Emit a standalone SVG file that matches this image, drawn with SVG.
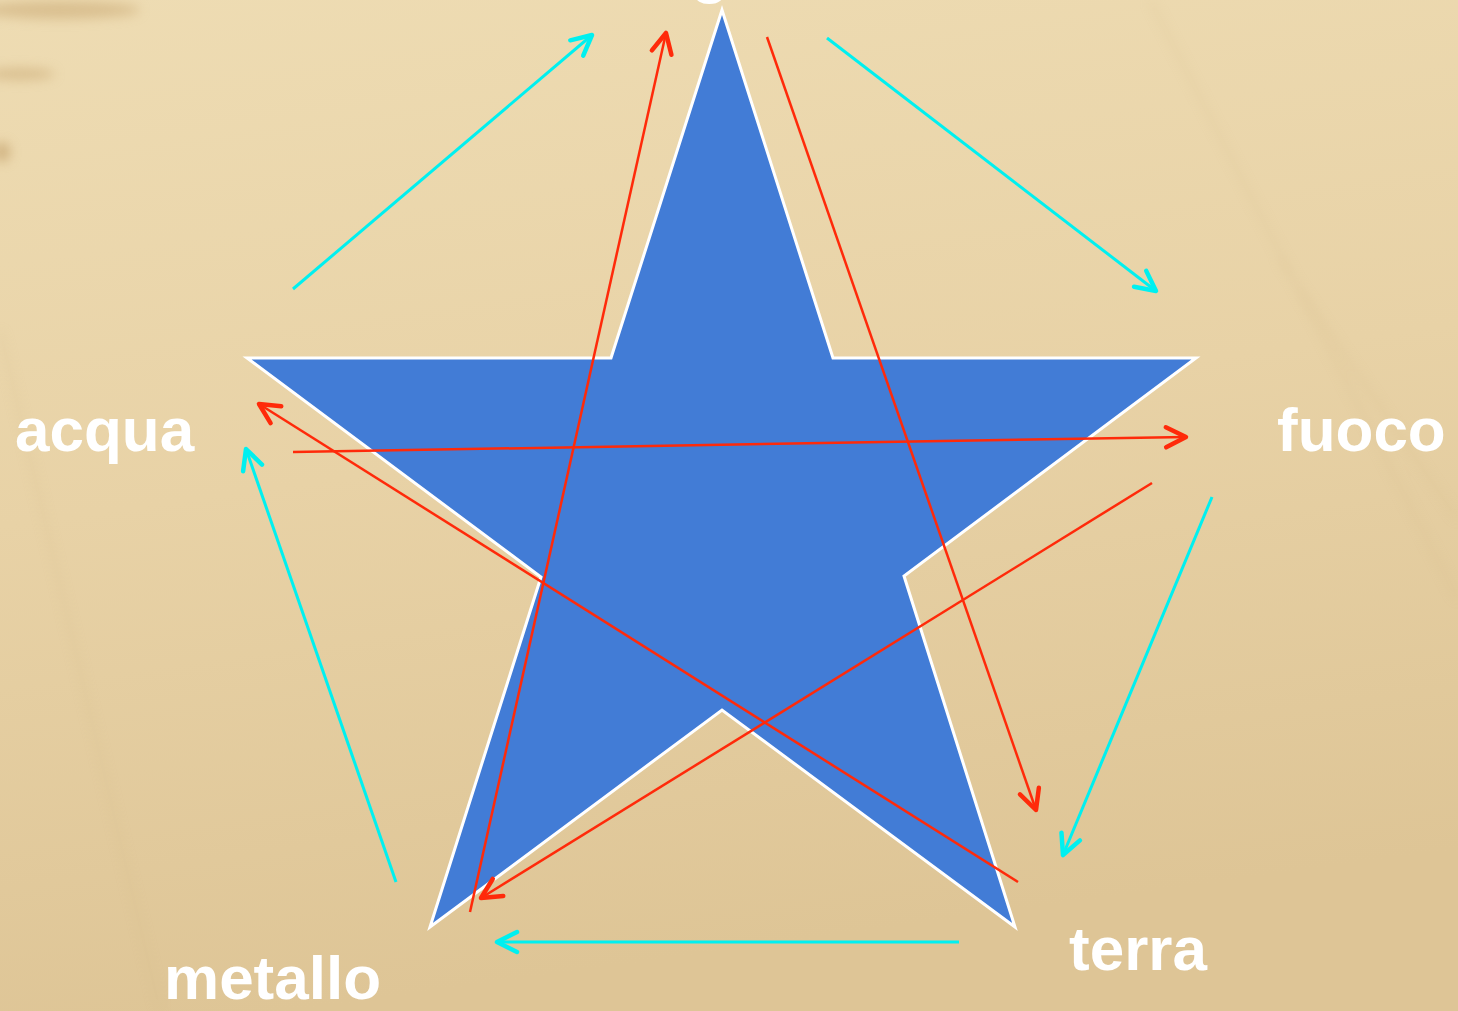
<svg xmlns="http://www.w3.org/2000/svg" width="1458" height="1011" viewBox="0 0 1458 1011">
<style>
.lbl{font-family:"Liberation Sans",Arial,sans-serif;font-weight:bold;font-size:62px;fill:#ffffff}
.cy{stroke:#00f0f0;stroke-width:3;fill:none}
.rd{stroke:#ff2a0a;stroke-width:2.5;fill:none}
</style>
<defs>
<linearGradient id="bg" x1="0" y1="0" x2="0.2" y2="1">
<stop offset="0" stop-color="#eedcb3"/>
<stop offset="0.5" stop-color="#e8d2a6"/>
<stop offset="1" stop-color="#dec596"/>
</linearGradient>
<filter id="blur" x="-50%" y="-50%" width="200%" height="200%"><feGaussianBlur stdDeviation="6"/></filter>
<marker id="ac" markerUnits="userSpaceOnUse" markerWidth="30" markerHeight="30" refX="22" refY="12" orient="auto" overflow="visible">
<path d="M2,2 L22,12 L2,22" fill="none" stroke="#00f0f0" stroke-width="4.5" stroke-linecap="round" stroke-linejoin="round"/>
</marker>
<marker id="ar" markerUnits="userSpaceOnUse" markerWidth="30" markerHeight="30" refX="22" refY="12" orient="auto" overflow="visible">
<path d="M2,2 L22,12 L2,22" fill="none" stroke="#ff2a0a" stroke-width="4.5" stroke-linecap="round" stroke-linejoin="round"/>
</marker>
</defs>
<rect width="1458" height="1011" fill="url(#bg)"/>
<g filter="url(#blur)" opacity="0.55">
<ellipse cx="60" cy="10" rx="80" ry="9" fill="#c9a873"/>
<ellipse cx="20" cy="74" rx="35" ry="6" fill="#c9a873"/>
<ellipse cx="2" cy="152" rx="8" ry="10" fill="#b8925a"/>
</g>
<g opacity="0.25" stroke="#c8ad7c" stroke-width="3" fill="none" filter="url(#blur)">
<path d="M0,330 L160,1011"/>
<path d="M1150,0 L1458,600"/>
<path d="M1280,260 L1458,520"/>
</g>
<g id="star">
<polygon points="722,10 833,358 1196,358 904,576 1015,927 722,710 430,927 541,577 247,358 611,358" fill="#427cd6" stroke="#ffffff" stroke-width="3"/>
</g>
<g id="connectors">
<line class="cy" x1="293" y1="289" x2="592" y2="35" marker-end="url(#ac)"/>
<line class="cy" x1="827" y1="38" x2="1156" y2="291" marker-end="url(#ac)"/>
<line class="cy" x1="1212" y1="497" x2="1063" y2="855" marker-end="url(#ac)"/>
<line class="cy" x1="959" y1="942" x2="497" y2="942" marker-end="url(#ac)"/>
<line class="cy" x1="396" y1="882" x2="246" y2="449" marker-end="url(#ac)"/>
<line class="rd" x1="470" y1="912" x2="666" y2="33" marker-end="url(#ar)"/>
<line class="rd" x1="767" y1="37" x2="1036" y2="810" marker-end="url(#ar)"/>
<line class="rd" x1="293" y1="452" x2="1186" y2="437" marker-end="url(#ar)"/>
<line class="rd" x1="1152" y1="483" x2="481" y2="898" marker-end="url(#ar)"/>
<line class="rd" x1="1018" y1="882" x2="259" y2="404" marker-end="url(#ar)"/>
</g>
<g id="legno"><text class="lbl" x="722" y="-9" text-anchor="middle">legno</text></g>
<g id="fuoco"><text class="lbl" x="1277" y="451">fuoco</text></g>
<g id="terra"><text class="lbl" x="1069" y="970">terra</text></g>
<g id="metallo"><text class="lbl" x="164" y="999">metallo</text></g>
<g id="acqua"><text class="lbl" x="15" y="451">acqua</text></g>
</svg>
